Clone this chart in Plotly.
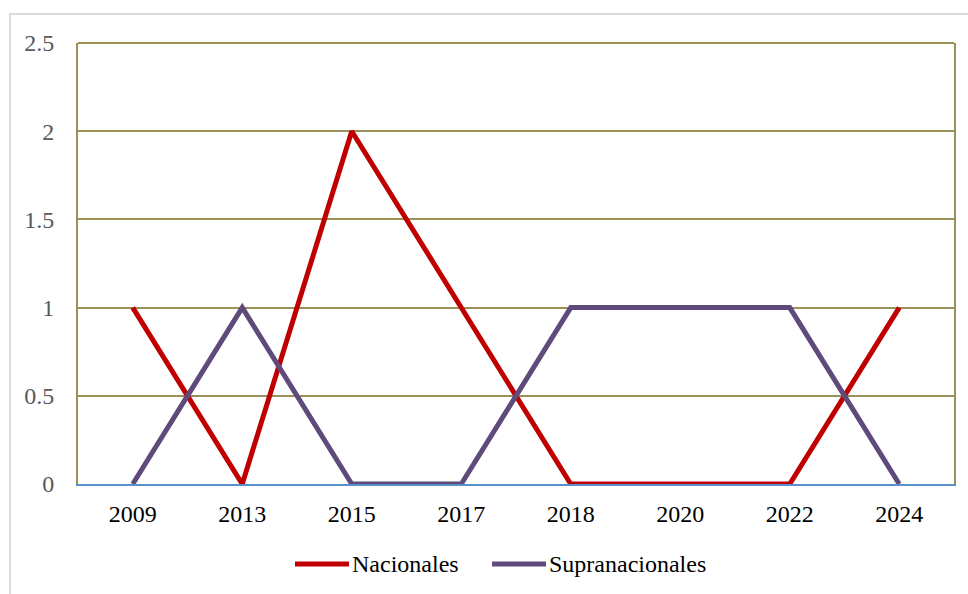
import plotly.graph_objects as go

years = ["2009", "2013", "2015", "2017", "2018", "2020", "2022", "2024"]
nacionales = [1, 0, 2, 1, 0, 0, 0, 1]
supranacionales = [0, 1, 0, 0, 1, 1, 1, 0]
y_ticks = [0, 0.5, 1, 1.5, 2, 2.5]
y_labels = ["0", "0.5", "1", "1.5", "2", "2.5"]

RED = "#C00000"
PURPLE = "#604A7B"
OLIVE = "#9A9058"
BLUE = "#5B8FC9"
FONT = "Liberation Serif"
FS = 24

fig = go.Figure()
fig.add_trace(go.Scatter(x=years, y=nacionales, mode="lines", name="Nacionales",
                         line=dict(color=RED, width=5), showlegend=False))
fig.add_trace(go.Scatter(x=years, y=supranacionales, mode="lines", name="Supranacionales",
                         line=dict(color=PURPLE, width=5), showlegend=False))

L, R, T, B = 78, 14, 43, 110
W, H = 968, 594
pw, ph = W - L - R, H - T - B

def px(x):
    return (x - L) / pw

def py(y):
    return (H - B - y) / ph

shapes = [
    dict(type="rect", xref="paper", yref="paper", x0=px(10), x1=px(975), y0=py(600), y1=py(14),
         line=dict(color="#D9D9D9", width=2), fillcolor="rgba(0,0,0,0)", layer="below"),
    dict(type="line", xref="paper", yref="paper", x0=0, x1=1, y0=1, y1=1,
         line=dict(color=OLIVE, width=2)),
    dict(type="line", xref="paper", yref="paper", x0=px(295), x1=px(349), y0=py(564), y1=py(564),
         line=dict(color=RED, width=5)),
    dict(type="line", xref="paper", yref="paper", x0=px(492), x1=px(546), y0=py(564), y1=py(564),
         line=dict(color=PURPLE, width=5)),
]

annotations = [
    dict(xref="paper", yref="paper", x=px(350), y=py(564), text="Nacionales", showarrow=False,
         xanchor="left", yanchor="middle", font=dict(family=FONT, size=FS, color="#000000")),
    dict(xref="paper", yref="paper", x=px(547), y=py(564), text="Supranacionales", showarrow=False,
         xanchor="left", yanchor="middle", font=dict(family=FONT, size=FS, color="#000000")),
]

fig.update_layout(
    width=W, height=H,
    margin=dict(l=L, r=R, t=T, b=B),
    paper_bgcolor="white", plot_bgcolor="white",
    font=dict(family=FONT, size=FS, color="#000000"),
    shapes=shapes, annotations=annotations,
    showlegend=False,
)
fig.update_xaxes(type="category", range=[-0.5, 7.5], showgrid=False, zeroline=False,
                 showline=True, linecolor=BLUE, linewidth=2,
                 tickfont=dict(family=FONT, size=FS, color="#000000"),
                 ticks="", ticklabelstandoff=7)
fig.update_yaxes(range=[0, 2.5], tickvals=y_ticks, ticktext=y_labels,
                 showgrid=True, gridcolor=OLIVE, gridwidth=2, zeroline=False,
                 showline=True, mirror=True, linecolor=OLIVE, linewidth=2,
                 tickfont=dict(family=FONT, size=FS, color="#595959"),
                 ticks="", ticklabelstandoff=17)

fig.write_html("out.html")
